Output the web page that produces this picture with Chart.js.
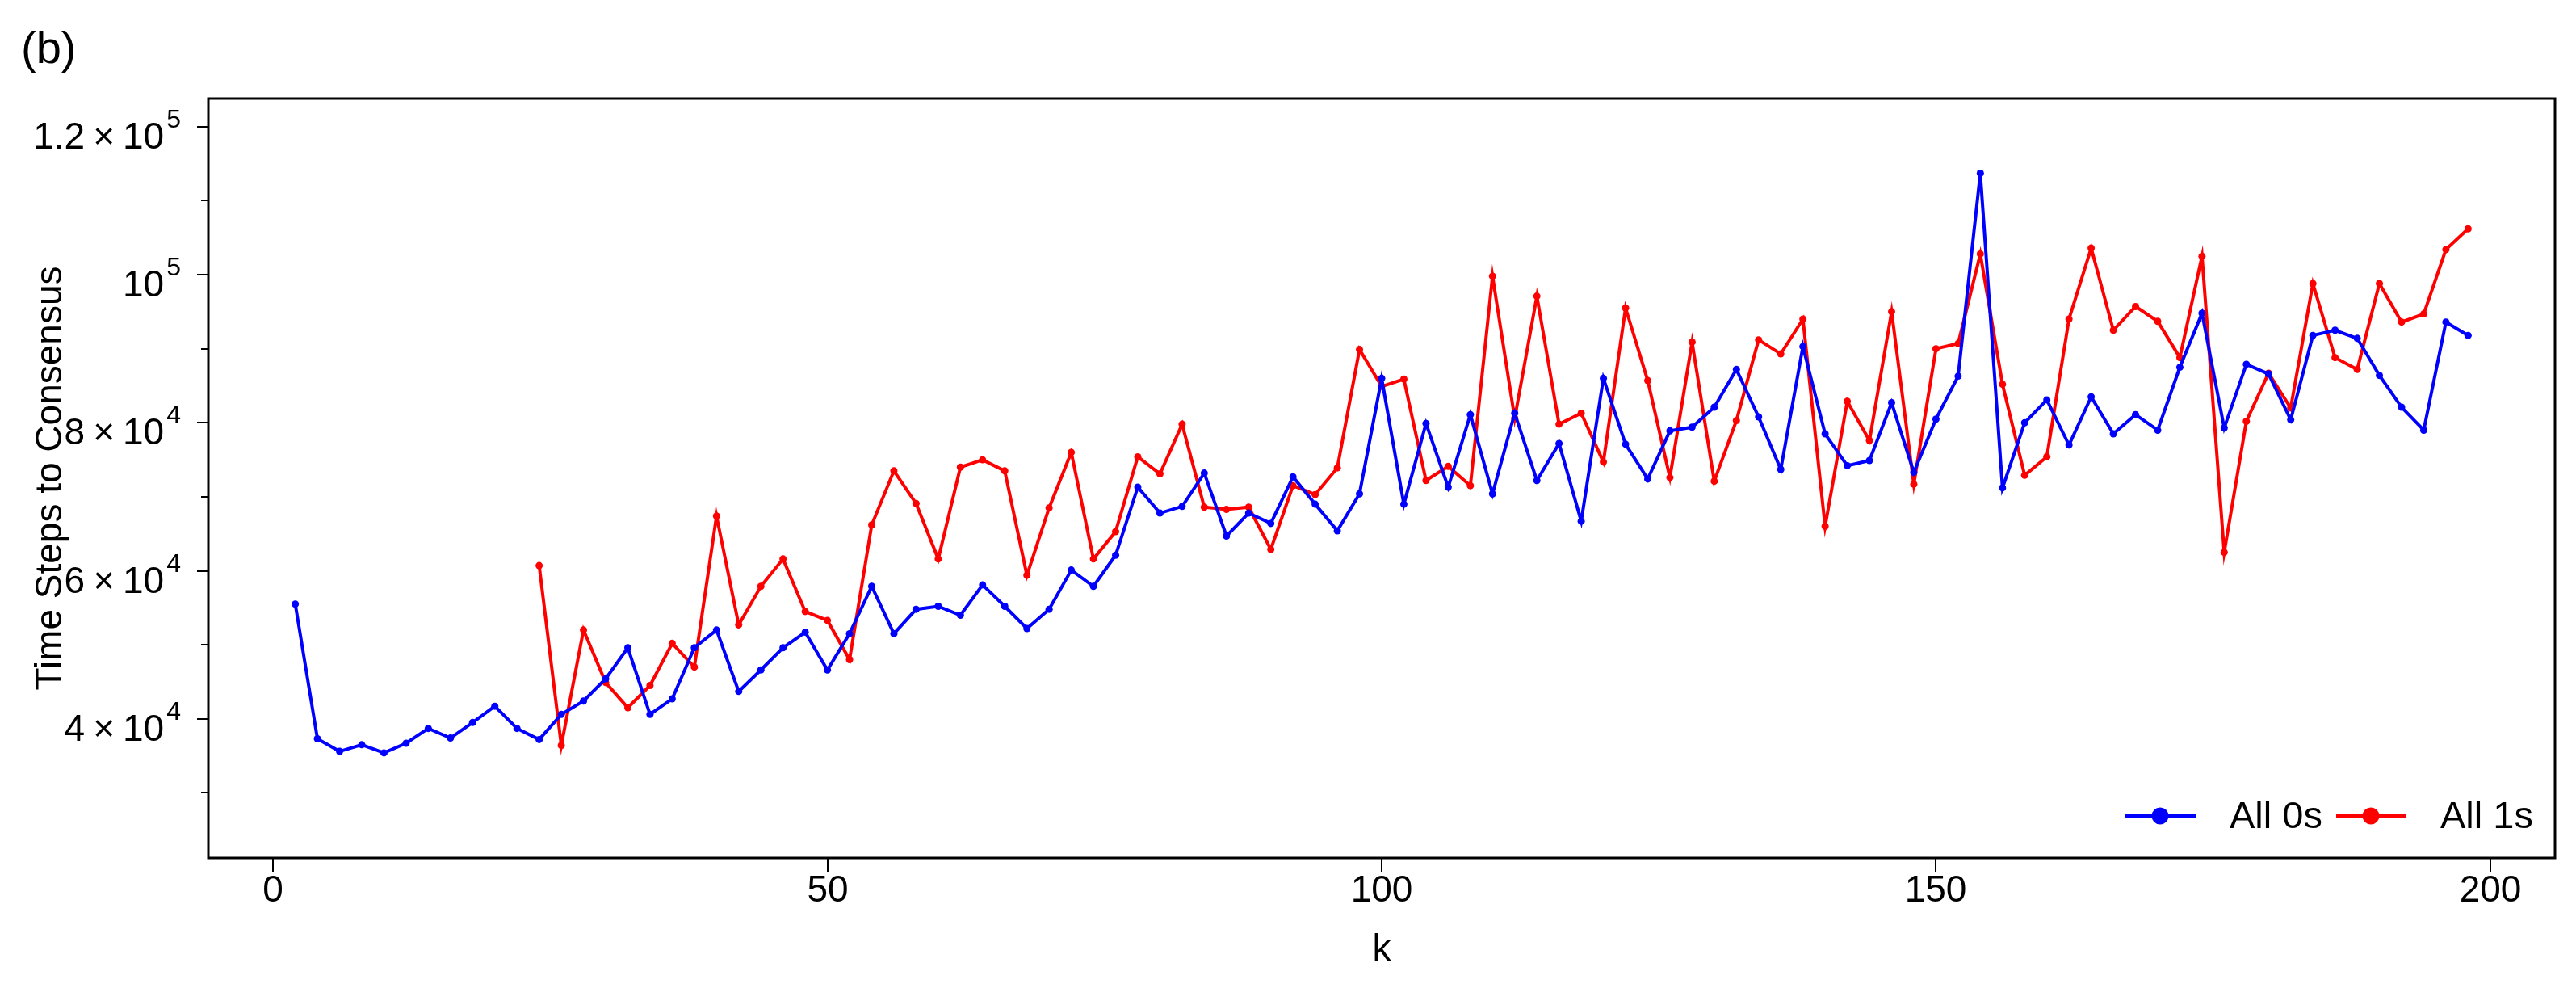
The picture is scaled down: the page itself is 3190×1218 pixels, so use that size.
<!DOCTYPE html>
<html>
<head>
<meta charset="utf-8">
<script src="https://cdn.jsdelivr.net/npm/chart.js@4.4.1/dist/chart.umd.min.js"></script>
<style>
  html, body { margin: 0; padding: 0; background: #ffffff; }
  #wrap { width: 3190px; height: 1218px; }
  canvas { display: block; }
</style>
</head>
<body>
<div id="wrap"><canvas id="c" width="3190" height="1218"></canvas></div>
<script>
// ---------------- data ----------------
const kValues = [
  2, 4, 6, 8, 10, 12, 14, 16, 18, 20, 22, 24, 26, 28, 30, 32, 34, 36, 38, 40,
  42, 44, 46, 48, 50, 52, 54, 56, 58, 60, 62, 64, 66, 68, 70, 72, 74, 76, 78, 80,
  82, 84, 86, 88, 90, 92, 94, 96, 98, 100, 102, 104, 106, 108, 110, 112, 114, 116, 118, 120,
  122, 124, 126, 128, 130, 132, 134, 136, 138, 140, 142, 144, 146, 148, 150, 152, 154, 156, 158, 160,
  162, 164, 166, 168, 170, 172, 174, 176, 178, 180, 182, 184, 186, 188, 190, 192, 194, 196, 198
];

const all0s = [
  55500, 37300, 35600, 36500, 35400, 36700, 38700, 37400, 39500, 41700,
  38700, 37200, 40600, 42400, 45400, 49600, 40600, 42700, 49600, 52000,
  43700, 46600, 49600, 51700, 46600, 51500, 57900, 51500, 54800, 55200,
  54000, 58100, 55200, 52200, 54800, 60100, 57900, 62100, 71300, 67800,
  68700, 73200, 64700, 67800, 66400, 72700, 69000, 65400, 70400, 86000,
  69000, 79900, 71300, 81100, 70400, 81300, 72200, 77200, 66700, 86000,
  77100, 72400, 78900, 79400, 82100, 87200, 80800, 73700, 90300, 78500,
  74200, 74900, 82700, 73300, 80500, 86300, 113700, 71200, 80000, 83100,
  77000, 83500, 78500, 81100, 79000, 87500, 94800, 79300, 87900, 86600,
  80400, 91800, 92500, 91400, 86400, 82100, 79000, 93600, 91800
];

const all1s = [
  null, null, null, null, null, null, null, null, null, null,
  null, 60700, 36400, 52000, 44900, 41500, 44500, 50200, 47000, 67400,
  52700, 57900, 61600, 54500, 53300, 48000, 66200, 73500, 69100, 61600,
  74000, 75000, 73500, 59400, 68500, 76000, 61600, 65300, 75400, 73100,
  79800, 68600, 68300, 68600, 62900, 71500, 70300, 73900, 89900, 84900,
  85900, 72200, 74100, 71500, 99800, 80600, 97100, 79800, 81300, 74700,
  95500, 85700, 72600, 90900, 72100, 80300, 91200, 89300, 94000, 66000,
  82900, 77600, 95000, 71700, 90000, 90700, 102800, 85200, 72900, 75400,
  94000, 103600, 92500, 95700, 93700, 88800, 102500, 62500, 80200, 86700,
  82000, 98800, 88800, 87200, 98800, 93600, 94700, 103400, 106200
];

const seriesLabels = ['All 0s', 'All 1s'];
const xTickValues = [0, 50, 100, 150, 200];
const xTickLabels = ['0', '50', '100', '150', '200'];
const yMajorTicks = [40000, 60000, 80000, 100000, 120000];
const yMinorTicks = [30000, 50000, 70000, 90000, 110000];
const yTickMantissas = ['4', '6', '8', '', '1.2'];
const yTickExponents = ['4', '4', '4', '5', '5'];
const xTitle = 'k';
const yTitle = 'Time Steps to Consensus';
const panelLabel = '(b)';

// ---------------- chart ----------------
const FONT = '"Liberation Sans", Arial, sans-serif';
const BLUE = '#0000FF';
const RED = '#FF0000';

function toPoints(vals) {
  return kValues.map((k, i) => ({ x: k, y: vals[i] }));
}

const decorPlugin = {
  id: 'decor',
  afterDraw(chart) {
    const ctx = chart.ctx;
    const a = chart.chartArea;
    const xs = chart.scales.x;
    const ys = chart.scales.y;
    ctx.save();
    ctx.fillStyle = '#000';
    ctx.strokeStyle = '#000';

    // plot box
    ctx.lineWidth = 3;
    ctx.strokeRect(a.left, a.top, a.right - a.left, a.bottom - a.top);

    // y ticks
    ctx.lineWidth = 2;
    ys.ticks.forEach(t => {
      const py = Math.round(ys.getPixelForValue(t.value));
      const len = yMajorTicks.includes(t.value) ? 14 : 9;
      ctx.beginPath();
      ctx.moveTo(a.left - len, py);
      ctx.lineTo(a.left, py);
      ctx.stroke();
    });

    // y tick labels (scientific with superscript)
    const mainFont = '46px ' + FONT;
    const supFont = '32px ' + FONT;
    const xRight = a.left - 34;
    yMajorTicks.forEach((v, i) => {
      const py = ys.getPixelForValue(v);
      ctx.textBaseline = 'alphabetic';
      ctx.textAlign = 'right';
      ctx.font = supFont;
      const exp = yTickExponents[i];
      ctx.fillText(exp, xRight, py + 1);
      let x = xRight - ctx.measureText(exp).width - 3;
      ctx.font = mainFont;
      ctx.fillText('10', x, py + 27);
      x -= ctx.measureText('10').width + 10;
      const mant = yTickMantissas[i];
      if (mant) {
        ctx.fillText('\u00D7', x, py + 27);
        x -= ctx.measureText('\u00D7').width + 10;
        ctx.fillText(mant, x, py + 27);
      }
    });

    // x ticks and labels
    ctx.font = mainFont;
    ctx.textAlign = 'center';
    ctx.textBaseline = 'alphabetic';
    xTickValues.forEach((v, i) => {
      const px = Math.round(xs.getPixelForValue(v));
      ctx.beginPath();
      ctx.moveTo(px, a.bottom);
      ctx.lineTo(px, a.bottom + 17);
      ctx.stroke();
      ctx.fillText(xTickLabels[i], px, a.bottom + 54);
    });

    // axis titles
    ctx.fillText(xTitle, (a.left + a.right) / 2, a.bottom + 127);
    ctx.save();
    ctx.translate(76, (a.top + a.bottom) / 2);
    ctx.rotate(-Math.PI / 2);
    ctx.textAlign = 'center';
    ctx.fillText(yTitle, 0, 0);
    ctx.restore();

    // panel label
    ctx.font = '56px ' + FONT;
    ctx.textAlign = 'left';
    ctx.fillText(panelLabel, 26, 78);

    // legend (bottom-right inside plot)
    const ly = a.bottom - 52;
    const items = chart.data.datasets.map(d => ({ label: d.label, color: d.borderColor }));
    const starts = [a.right - 532, a.right - 271];
    ctx.font = '47px ' + FONT;
    ctx.textBaseline = 'middle';
    items.forEach((it, i) => {
      const x0 = starts[i];
      ctx.strokeStyle = it.color;
      ctx.fillStyle = it.color;
      ctx.lineWidth = 4;
      ctx.beginPath();
      ctx.moveTo(x0, ly);
      ctx.lineTo(x0 + 87, ly);
      ctx.stroke();
      ctx.beginPath();
      ctx.arc(x0 + 43, ly, 10.5, 0, Math.PI * 2);
      ctx.fill();
      ctx.fillStyle = '#000';
      ctx.textAlign = 'left';
      ctx.fillText(it.label, x0 + 129, ly + 2);
    });

    ctx.restore();
  }
};

new Chart(document.getElementById('c'), {
  type: 'line',
  data: {
    datasets: [
      {
        label: seriesLabels[0],
        data: toPoints(all0s),
        borderColor: BLUE,
        backgroundColor: BLUE,
        borderWidth: 4,
        pointRadius: 4.5,
        pointBorderWidth: 0,
        pointHoverRadius: 4.5,
        tension: 0,
        spanGaps: false
      },
      {
        label: seriesLabels[1],
        data: toPoints(all1s),
        borderColor: RED,
        backgroundColor: RED,
        borderWidth: 4,
        pointRadius: 4.5,
        pointBorderWidth: 0,
        pointHoverRadius: 4.5,
        tension: 0,
        spanGaps: false
      }
    ]
  },
  options: {
    responsive: false,
    animation: false,
    devicePixelRatio: 1,
    layout: { padding: { top: 122, right: 26, left: 0, bottom: 0 } },
    plugins: {
      legend: { display: false },
      tooltip: { enabled: false },
      title: { display: false }
    },
    scales: {
      x: {
        type: 'linear',
        min: -5.84,
        max: 205.84,
        grid: { display: false },
        border: { display: false },
        ticks: { display: false },
        afterBuildTicks(s) { s.ticks = xTickValues.map(v => ({ value: v })); },
        afterFit(s) { s.height = 156; }
      },
      y: {
        type: 'linear',
        min: 21200,
        max: 123800,
        grid: { display: false },
        border: { display: false },
        ticks: { display: false },
        afterBuildTicks(s) {
          s.ticks = yMinorTicks.concat(yMajorTicks).sort((p, q) => p - q).map(v => ({ value: v }));
        },
        afterFit(s) { s.width = 258; }
      }
    }
  },
  plugins: [decorPlugin]
});
</script>
</body>
</html>
